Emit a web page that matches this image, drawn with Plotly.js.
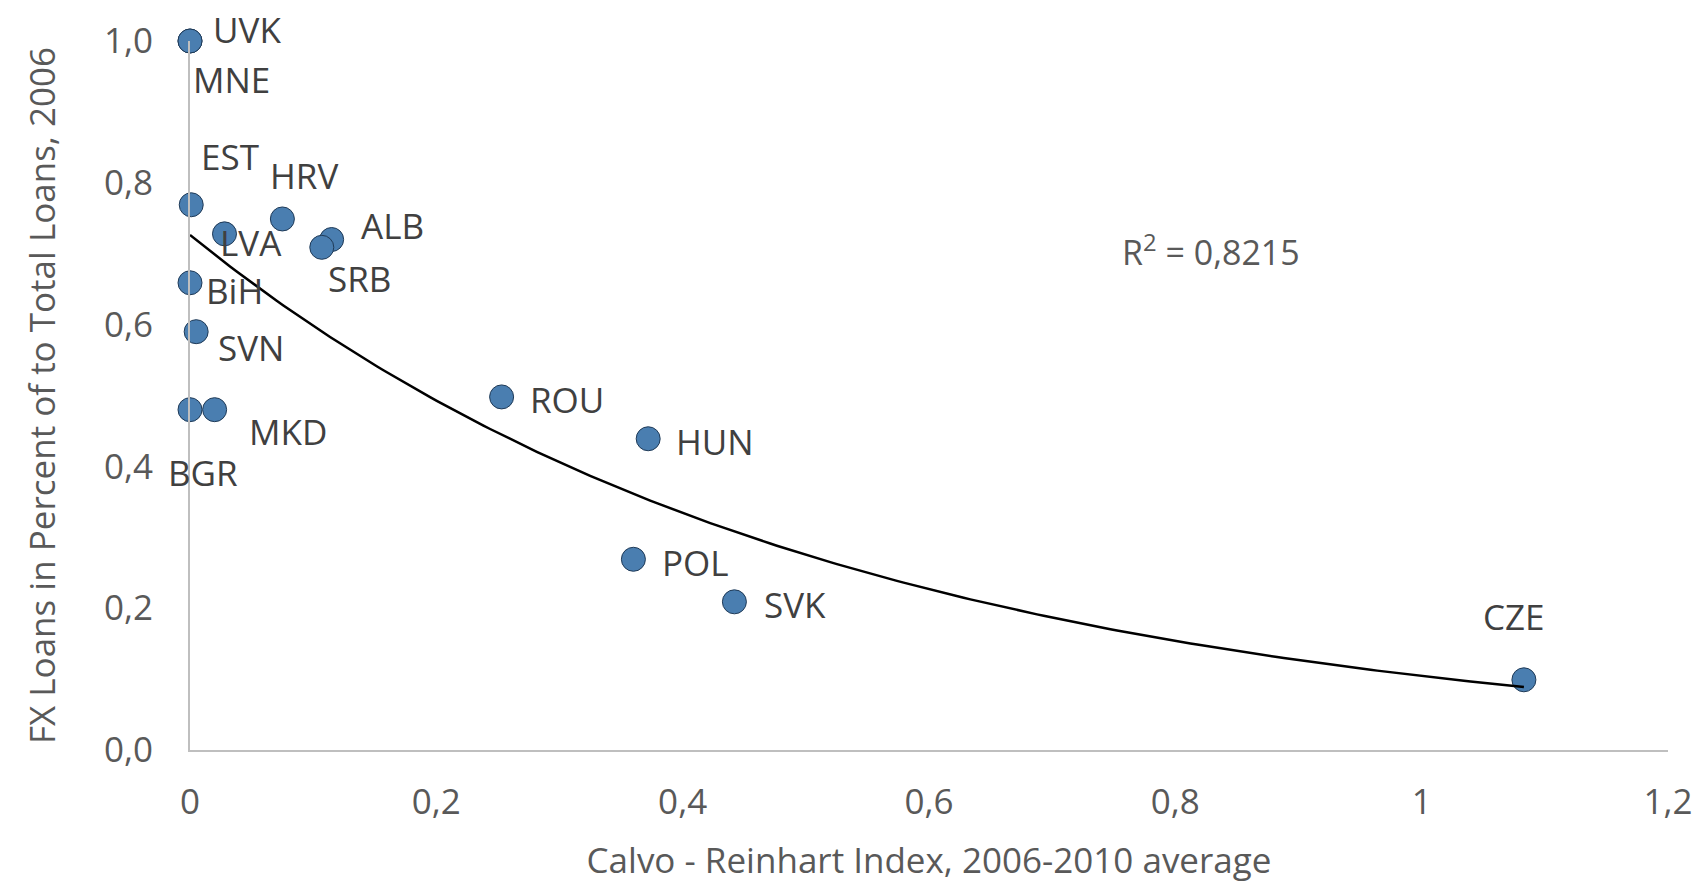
<!DOCTYPE html>
<html>
<head>
<meta charset="utf-8">
<script src="https://cdn.plot.ly/plotly-3.0.1.min.js"></script>
<style>
  html, body { margin: 0; padding: 0; background: #ffffff; }
  #chart { width: 1699px; height: 883px; }
</style>
</head>
<body>
<div id="chart"></div>
<script>
// ---- Data ----
const countries = ["UVK", "MNE", "EST", "HRV", "LVA", "ALB", "SRB", "BiH", "SVN", "BGR", "MKD", "ROU", "HUN", "POL", "SVK", "CZE"];
const calvoReinhart = [0.000, 0.000, 0.001, 0.075, 0.028, 0.115, 0.107, 0.000, 0.005, 0.000, 0.020, 0.253, 0.372, 0.360, 0.442, 1.083];
const fxLoanShare   = [1.000, 1.000, 0.769, 0.749, 0.728, 0.720, 0.709, 0.659, 0.590, 0.480, 0.480, 0.498, 0.439, 0.269, 0.209, 0.099];
const rSquaredText = "R<sup>2</sup> = 0,8215";
const xTickValues = [0, 0.2, 0.4, 0.6, 0.8, 1, 1.2];
const yTickValues = [0, 0.2, 0.4, 0.6, 0.8, 1.0];

// Label placement offsets in pixels (styling only): [xshift, yshift]
const labelOffsets = {
  UVK: [57, 12], MNE: [41, -38], EST: [39, 48], HRV: [22, 43], LVA: [27, -9],
  ALB: [61, 14], SRB: [38, -31], BiH: [44, -8], SVN: [55, -16], BGR: [13, -63],
  MKD: [73, -22], ROU: [65, -3], HUN: [67, -3], POL: [62, -3], SVK: [61, -3], CZE: [-10, 63]
};

// ---- Exponential trendline (least squares on ln y, as Excel does) ----
function expFit(xs, ys) {
  const n = xs.length;
  const ly = ys.map(v => Math.log(v));
  const mx = xs.reduce((s, v) => s + v, 0) / n;
  const my = ly.reduce((s, v) => s + v, 0) / n;
  let sxy = 0, sxx = 0;
  for (let i = 0; i < n; i++) { sxy += (xs[i] - mx) * (ly[i] - my); sxx += (xs[i] - mx) * (xs[i] - mx); }
  const b = sxy / sxx;
  const a = Math.exp(my - b * mx);
  return { a, b };
}
const fit = expFit(calvoReinhart, fxLoanShare);
const xMin = Math.min(...calvoReinhart), xMax = Math.max(...calvoReinhart);
const trendX = [], trendY = [];
const steps = 200;
for (let i = 0; i <= steps; i++) {
  const x = xMin + (xMax - xMin) * i / steps;
  trendX.push(x);
  trendY.push(fit.a * Math.exp(fit.b * x));
}

const FONT = "'Open Sans', 'Noto Sans', sans-serif";
const FS = 35;

const traces = [
  {
    x: calvoReinhart, y: fxLoanShare, text: countries, type: "scatter", mode: "markers",
    marker: { size: 24, color: "#4A7EB0", line: { color: "#1F3A57", width: 1 } },
    showlegend: false, cliponaxis: false
  },
  {
    x: trendX, y: trendY, type: "scatter", mode: "lines",
    line: { color: "#000000", width: 2.5 },
    hoverinfo: "skip", showlegend: false, cliponaxis: false
  }
];

const annotations = countries.map((c, i) => ({
  x: calvoReinhart[i], y: fxLoanShare[i], xref: "x", yref: "y",
  text: c, showarrow: false,
  xshift: labelOffsets[c][0], yshift: labelOffsets[c][1],
  xanchor: "center", yanchor: "middle",
  font: { family: FONT, size: FS, color: "#404040" }
}));
annotations.push({
  x: 0.829, y: 0.705, xref: "x", yref: "y", text: rSquaredText, showarrow: false,
  xanchor: "center", yanchor: "middle",
  font: { family: FONT, size: 34, color: "#595959" }
});

const layout = {
  width: 1699, height: 883,
  margin: { l: 190, r: 31, t: 41, b: 133, pad: 0 },
  paper_bgcolor: "#ffffff", plot_bgcolor: "#ffffff",
  separators: ",.",
  font: { family: FONT, size: FS, color: "#595959" },
  showlegend: false,
  xaxis: {
    range: [0, 1.2], tickvals: xTickValues, showgrid: false, zeroline: false,
    showline: true, linecolor: "#BFBFBF", linewidth: 2, ticks: "",
    ticklabelstandoff: 20,
    tickfont: { family: FONT, size: FS, color: "#595959" },
    title: { text: "Calvo - Reinhart Index, 2006-2010 average", standoff: 28,
             font: { family: FONT, size: FS, color: "#595959" } }
  },
  yaxis: {
    range: [0, 1.0], tickvals: yTickValues, tickformat: ".1f", showgrid: false, zeroline: false,
    showline: true, linecolor: "#BFBFBF", linewidth: 2, ticks: "",
    ticklabelstandoff: 28,
    tickfont: { family: FONT, size: FS, color: "#595959" },
    title: { text: "FX Loans in Percent of to Total Loans, 2006", standoff: 38,
             font: { family: FONT, size: FS, color: "#595959" } }
  },
  annotations: annotations
};

Plotly.newPlot("chart", traces, layout, { displayModeBar: false, staticPlot: true });
</script>
</body>
</html>
